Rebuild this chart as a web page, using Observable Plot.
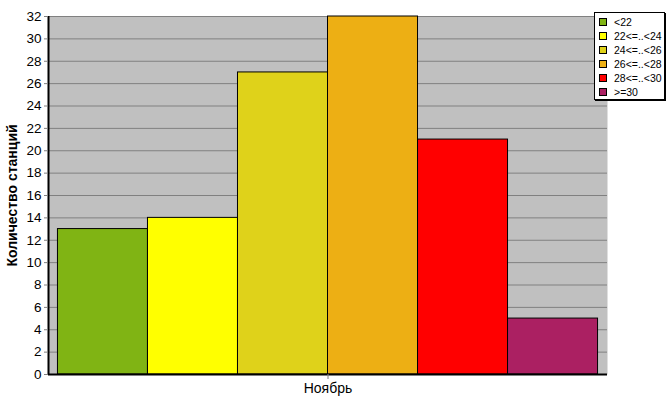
<!DOCTYPE html>
<html><head><meta charset="utf-8">
<script src="https://cdn.jsdelivr.net/npm/d3@7"></script>
<script src="https://cdn.jsdelivr.net/npm/@observablehq/plot@0.6"></script>
<style>
body{margin:0;background:#fff;}
#wrap{position:relative;width:667px;height:415px;}
#legend{position:absolute;left:594px;top:12px;width:71px;height:88px;background:#fff;border:1px solid #000;box-shadow:1px 1px 0 #000;font:10.5px "Liberation Sans",Arial,sans-serif;color:#000;box-sizing:border-box;padding-top:2px;white-space:nowrap;overflow:hidden;}
.row{height:14px;display:flex;align-items:center;white-space:nowrap;}
.sw{width:8px;height:8px;border:1px solid #000;margin-left:4px;margin-right:7px;box-sizing:border-box;flex:none;}
</style></head>
<body><div id="wrap"><div id="legend"></div></div>
<script>
const categories = ["<22", "22<=..<24", "24<=..<26", "26<=..<28", "28<=..<30", ">=30"];
const counts = [13, 14, 27, 32, 21, 5];
const colors = ["#80B414", "#FFFF00", "#DFD21A", "#EDAF14", "#FF0000", "#AB2062"];
const monthLabel = "Ноябрь";
const yLabel = "Количество станций";
const yTicks = d3.range(0, 33, 2);

const data = categories.map((c, i) => ({cat: c, i, count: counts[i]}));

const chart = Plot.plot({
  width: 667, height: 415,
  marginLeft: 48, marginRight: 60, marginTop: 16, marginBottom: 41,
  style: {fontFamily: "'Liberation Sans', Arial, sans-serif", fontSize: "13px", background: "white", color: "black"},
  x: {domain: [-0.105, categories.length + 0.105]},
  y: {domain: [0, 32]},
  color: {domain: categories, range: colors},
  marks: [
    Plot.frame({fill: "#C0C0C0", stroke: null}),
    Plot.gridY(yTicks, {stroke: "#808080", strokeOpacity: 1}),
    Plot.rectY(data, {x1: d => d.i, x2: d => d.i + 1, y: "count", fill: "cat", stroke: "black", strokeWidth: 1}),
    Plot.ruleY([0], {stroke: "black", strokeWidth: 2}),
    Plot.ruleX([-0.105], {stroke: "black", strokeWidth: 2}),
    Plot.axisY({ticks: yTicks, tickSize: 4, tickPadding: 3, label: null, fontSize: 13.5, stroke: "#808080"}),
    Plot.axisX({ticks: [categories.length / 2], tickFormat: () => monthLabel, tickSize: 5, tickPadding: 4, label: null, fontSize: 14, stroke: "#808080"}),
    Plot.text([yLabel], {frameAnchor: "left", textAnchor: "middle", rotate: -90, dx: -36, fontWeight: "bold", fontSize: 14, fill: "black"})
  ]
});
document.getElementById("wrap").prepend(chart);
chart.style.position = "absolute"; chart.style.left = "0"; chart.style.top = "0";

const legend = document.getElementById("legend");
categories.forEach((c, i) => {
  const row = document.createElement("div");
  row.className = "row";
  const sw = document.createElement("span");
  sw.className = "sw";
  sw.style.background = colors[i];
  const t = document.createElement("span");
  t.textContent = c;
  row.append(sw, t);
  legend.append(row);
});
</script></body></html>
